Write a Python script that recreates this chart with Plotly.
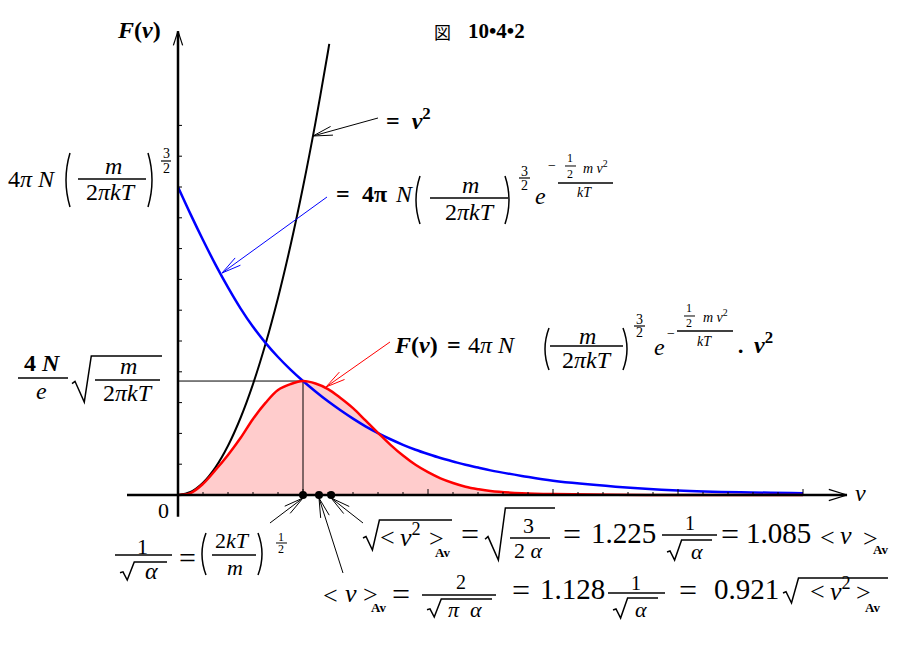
import math
import plotly.graph_objects as go

W, H = 910, 645
SERIF = "Liberation Serif"
CJK = "Noto Sans CJK JP"

# speed v in units of 1/sqrt(alpha); heights in y-tick units
U = [0, 0.1, 0.2, 0.3, 0.4, 0.5, 0.6, 0.7, 0.8, 0.9, 1.0,
     1.1, 1.2, 1.3, 1.4, 1.5, 1.6, 1.7, 1.8, 1.9, 2.0,
     2.1, 2.2, 2.3, 2.4, 2.5, 2.75, 3.0, 3.5, 4.0, 4.5, 5.0]
EXP_PART = [10.0, 9.12, 8.28, 7.48, 6.74, 6.06, 5.46, 4.94, 4.48, 4.07, 3.70,
            3.36, 3.04, 2.75, 2.48, 2.23, 2.01, 1.81, 1.63, 1.47, 1.33,
            1.20, 1.09, 0.98, 0.89, 0.80, 0.62, 0.46, 0.27, 0.15, 0.09, 0.06]
MAXWELL = [0, 0.06, 0.36, 0.81, 1.30, 1.85, 2.47, 2.99, 3.41, 3.60, 3.70,
           3.62, 3.44, 3.15, 2.82, 2.42, 2.02, 1.63, 1.28, 0.98, 0.74,
           0.54, 0.39, 0.27, 0.19, 0.13, 0.06, 0.03, 0.01, 0, 0, 0]
U_SQ = [0, 0.1, 0.2, 0.3, 0.4, 0.5, 0.6, 0.7, 0.8, 0.9, 1.0, 1.1, 1.2, 1.21]
SQUARE = [0, 0.1, 0.4, 0.9, 1.6, 2.5, 3.6, 4.9, 6.4, 8.1, 10.0, 12.1, 14.4, 14.65]

X_TICKS = [k / 5 for k in range(1, 26)]
Y_TICKS = list(range(1, 13))
MEAN_SPEEDS = [1.0, 1.128, 1.225]   # v_p, <v>, sqrt(<v^2>)
PEAK_U, PEAK_F = 1.0, 3.70

# pixel scale of the drawing
ORIGIN = (178, 495)
PX_U, PX_F = 125, 30.8

def d2p(u, f):
    return ORIGIN[0] + u * PX_U, ORIGIN[1] - f * PX_F

ann, shapes = [], []

def T(px, py, s, size=22, color="black", xa="center", fam=SERIF):
    ann.append(dict(x=px / W, y=1 - py / H, xref="paper", yref="paper", text=s,
                    showarrow=False, xanchor=xa, yanchor="middle",
                    font=dict(family=fam, size=size, color=color)))

def path(pts, w=1.5, color="black"):
    d = "M " + " L ".join(f"{x / W:.5f},{1 - y / H:.5f}" for x, y in pts)
    shapes.append(dict(type="path", xref="paper", yref="paper", path=d,
                       line=dict(color=color, width=w)))

def bar(x0, x1, y, w=1.5):
    path([(x0, y), (x1, y)], w)

def radical(x0, ytop, ybot, x1, w=1.5):
    h = ybot - ytop
    path([(x0, ytop + 0.6 * h), (x0 + 3, ytop + 0.55 * h), (x0 + 0.18 * h + 4, ybot),
          (x0 + 0.18 * h + 11, ytop), (x1, ytop)], w)

def paren(x, ytop, ybot, left=True, w=1.5):
    k = 4 if left else -4
    ym = (ytop + ybot) / 2
    d = (f"M {(x + k) / W:.5f},{1 - ytop / H:.5f} Q {(x - k) / W:.5f},{1 - ym / H:.5f} "
         f"{(x + k) / W:.5f},{1 - ybot / H:.5f}")
    shapes.append(dict(type="path", xref="paper", yref="paper", path=d,
                       line=dict(color="black", width=w)))

def barbs(hx, hy, tx, ty, color, length=19, ang=15, w=1):
    a = math.atan2(ty - hy, tx - hx)
    for s in (-1, 1):
        b = a + s * math.radians(ang)
        path([(hx + length * math.cos(b), hy + length * math.sin(b)), (hx, hy)], w, color)

def arrow(tail, head, color="black", w=1):
    path([tail, head], w, color)
    barbs(head[0], head[1], tail[0], tail[1], color, 20, 13, w)

fig = go.Figure()

# shaded distribution
fig.add_trace(go.Scatter(x=U, y=MAXWELL, mode="lines", fill="tozeroy",
                         fillcolor="rgb(255,204,204)", line=dict(width=0, shape="spline"),
                         hoverinfo="skip"))
# peak guide lines
fig.add_trace(go.Scatter(x=[0, PEAK_U, PEAK_U], y=[PEAK_F, PEAK_F, 0], mode="lines",
                         line=dict(color="black", width=1)))
fig.add_trace(go.Scatter(x=U_SQ, y=SQUARE, mode="lines",
                         line=dict(color="black", width=2, shape="spline")))
fig.add_trace(go.Scatter(x=U, y=EXP_PART, mode="lines",
                         line=dict(color="#0000ff", width=2.5, shape="spline")))
fig.add_trace(go.Scatter(x=U, y=MAXWELL, mode="lines",
                         line=dict(color="#ff0000", width=2.5, shape="spline")))

# axes
x_left, x_tip = -0.408, 5.352
y_bot, y_tip = -0.71, 15.06
fig.add_trace(go.Scatter(x=[x_left, x_tip], y=[0, 0], mode="lines",
                         line=dict(color="black", width=2.5)))
fig.add_trace(go.Scatter(x=[0, 0], y=[y_bot, y_tip], mode="lines",
                         line=dict(color="black", width=2.5)))
tx, ty = [], []
for t in X_TICKS:
    h = 6 / PX_F if abs(t - round(t)) < 1e-9 else 3 / PX_F
    tx += [t, t, None]
    ty += [0, h, None]
for t in Y_TICKS:
    tx += [0, 4 / PX_U, None]
    ty += [t, t, None]
fig.add_trace(go.Scatter(x=tx, y=ty, mode="lines", line=dict(color="black", width=1)))
fig.add_trace(go.Scatter(x=MEAN_SPEEDS, y=[0] * 3, mode="markers",
                         marker=dict(color="black", size=8)))

hx, hy = d2p(x_tip, 0)
barbs(hx, hy, hx - 10, hy, "black", 19, 17, 1.2)
hx, hy = d2p(0, y_tip)
barbs(hx, hy, hx, hy + 10, "black", 15, 18, 1.2)

# pointer arrows
arrow((378, 118), (313, 136), "black")
arrow((327, 197), (222, 273), "blue")
arrow((390, 342), (326, 387), "red")
for tail, u in zip([(270, 523), (343, 573), (363, 523)], MEAN_SPEEDS):
    px, py = d2p(u, 0)
    arrow(tail, (px, py + 3))

# labels
T(139, 30, "<b><i>F</i>(<i>v</i>)</b>", 24)
T(442, 31, "図", 17, fam=CJK)
T(497, 31, "<b>10•4•2</b>", 21)
T(860, 493, "<i>v</i>", 24)
T(163, 510, "0", 22)

# = v^2
T(384, 119, "<b>=  <i>v</i><sup>2</sup></b>", 24, xa="left")

# 4 pi N (m / 2 pi k T)^(3/2) on the axis
T(32, 179, "4<i>π N</i>", 24)
paren(66, 153, 207, True)
T(113, 166, "<i>m</i>", 24)
bar(78, 146, 179)
T(111, 192, "2<i>πkT</i>", 24)
paren(152, 153, 207, False)
T(166, 153, "3", 14)
bar(161, 171, 161, 1.2)
T(166, 168, "2", 14)

# blue formula
T(343, 194, "<b>=</b>", 24)
T(374, 194, "<b>4π</b>", 24)
T(404, 194, "<i>N</i>", 24)
paren(416, 176, 224, True)
T(470, 185, "<i>m</i>", 24)
bar(430, 508, 198)
T(470, 212, "2<i>πkT</i>", 24)
paren(509, 176, 224, False)
T(524, 171, "3", 14)
bar(519, 530, 178, 1.2)
T(524, 185, "2", 14)
T(540, 196, "<i>e</i>", 24)
T(552, 166, "−", 14)
T(570, 158, "1", 12)
bar(565, 576, 166, 1)
T(570, 174, "2", 12)
T(595, 167, "<i>m v</i><sup>2</sup>", 14)
bar(558, 613, 183)
T(584, 192, "<i>kT</i>", 14)

# 4N/e sqrt(m / 2 pi k T)
T(42, 363, "<b>4 <i>N</i></b>", 24)
bar(18, 68, 378)
T(41, 391, "<i>e</i>", 24)
radical(72, 356, 402, 162)
T(128, 366, "<i>m</i>", 24)
bar(95, 160, 380)
T(128, 393, "2<i>πkT</i>", 24)

# red formula
T(416, 345, "<b><i>F</i>(<i>v</i>)</b>", 24)
T(454, 345, "<b>=</b>", 24)
T(492, 345, "4<i>π N</i>", 24)
paren(545, 328, 370, True)
T(587, 336, "<i>m</i>", 24)
bar(550, 623, 346)
T(587, 360, "2<i>πkT</i>", 24)
paren(627, 328, 370, False)
T(639, 319, "3", 14)
bar(634, 645, 326, 1.2)
T(639, 332, "2", 14)
T(659, 347, "<i>e</i>", 24)
T(671, 333, "−", 14)
T(689, 308, "1", 12)
bar(684, 695, 316, 1)
T(689, 323, "2", 12)
T(715, 316, "<i>m v</i><sup>2</sup>", 14)
bar(677, 733, 331)
T(704, 341, "<i>kT</i>", 14)
T(740, 350, "<b>·</b>", 22)
T(763, 343, "<b><i>v</i><sup>2</sup></b>", 24)

# 1/sqrt(alpha) = (2kT/m)^(1/2)
T(142, 546, "1", 22)
bar(115, 172, 555)
radical(120, 562, 580, 167)
T(151, 571, "<i>α</i>", 24)
T(187, 557, "=", 30)
paren(202, 533, 575, True)
T(233, 540, "2<i>kT</i>", 22)
bar(212, 256, 555)
T(235, 567, "<i>m</i>", 22)
paren(262, 533, 575, False)
T(281, 537, "1", 12)
bar(276, 287, 543, 1)
T(281, 549, "2", 12)

# sqrt(<v^2>) line
radical(363, 520, 550, 452)
T(387, 537, "&lt;", 26)
T(410, 535, "<i>v</i><sup>2</sup>", 26)
T(436, 538, "&gt;", 26)
T(442, 552, "<b>Av</b>", 13)
T(470, 534, "=", 32)
radical(485, 508, 560, 555)
T(528, 525, "3", 22)
bar(510, 550, 538)
T(528, 550, "2 <i>α</i>", 22)
T(572, 534, "=", 32)
T(623, 533, "1.225", 29)
T(690, 523, "1", 20)
bar(662, 717, 535)
radical(667, 540, 560, 712)
T(697, 551, "<i>α</i>", 22)
T(730, 534, "=", 32)
T(778, 533, "1.085", 29)
T(827, 537, "&lt;", 26)
T(846, 535, "<i>v</i>", 26)
T(870, 538, "&gt;", 26)
T(880, 549, "<b>Av</b>", 13)

# <v> line
T(330, 595, "&lt;", 26)
T(351, 593, "<i>v</i>", 26)
T(370, 594, "&gt;", 26)
T(378, 607, "<b>Av</b>", 13)
T(401, 594, "=", 32)
T(461, 582, "2", 20)
bar(422, 496, 595)
radical(427, 599, 617, 492)
T(454, 609, "<i>π</i>", 22)
T(476, 609, "<i>α</i>", 22)
T(521, 590, "=", 32)
T(572, 589, "1.128", 29)
T(636, 583, "1", 20)
bar(608, 665, 593)
radical(613, 598, 618, 658)
T(641, 609, "<i>α</i>", 22)
T(688, 590, "=", 32)
T(746, 589, "0.921", 29)
radical(783, 578, 603, 888)
T(817, 591, "&lt;", 26)
T(840, 589, "<i>v</i><sup>2</sup>", 26)
T(863, 592, "&gt;", 26)
T(872, 607, "<b>Av</b>", 13)

fig.update_layout(
    width=W, height=H, autosize=False,
    margin=dict(l=0, r=0, t=0, b=0, pad=0),
    showlegend=False,
    plot_bgcolor="white", paper_bgcolor="white",
    xaxis=dict(visible=False, range=[-ORIGIN[0] / PX_U, (W - ORIGIN[0]) / PX_U], fixedrange=True),
    yaxis=dict(visible=False, range=[-(H - ORIGIN[1]) / PX_F, ORIGIN[1] / PX_F], fixedrange=True),
    annotations=ann, shapes=shapes,
)
fig.write_html("out.html", config=dict(displayModeBar=False),
               post_script="document.body.style.margin='0';document.body.style.overflow='hidden';")
